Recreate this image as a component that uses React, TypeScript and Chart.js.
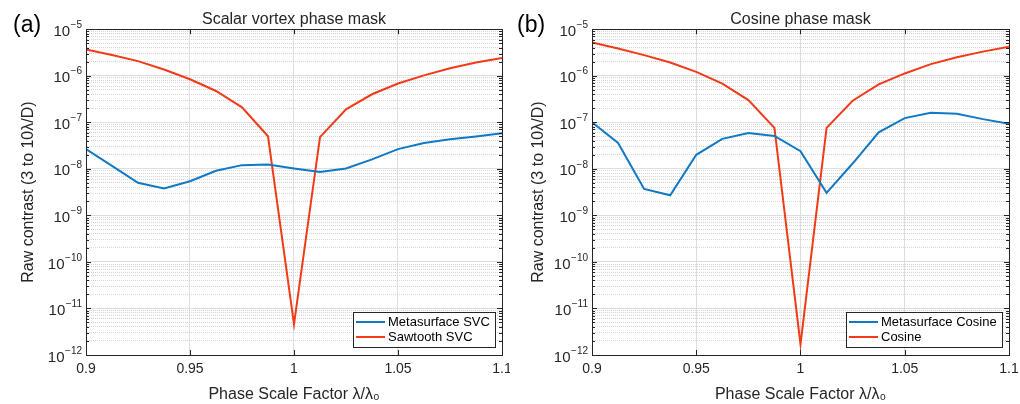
import React, { useEffect, useRef } from 'react';
import { Chart, registerables } from 'chart.js';

Chart.register(...registerables);

const FONT = '"Liberation Sans", Arial, Helvetica, sans-serif';
const TEXT = '#262626';

// Phase scale factor λ/λ0
const xValues = [0.9, 0.9125, 0.925, 0.9375, 0.95, 0.9625, 0.975, 0.9875, 1.0, 1.0125, 1.025, 1.0375, 1.05, 1.0625, 1.075, 1.0875, 1.1];

// (a) Scalar vortex phase mask
const metasurfaceSVC = [2.65e-8, 1.16e-8, 5.0e-9, 3.8e-9, 5.4e-9, 9.1e-9, 1.2e-8, 1.24e-8, 1.02e-8, 8.5e-9, 1.02e-8, 1.6e-8, 2.65e-8, 3.6e-8, 4.3e-8, 4.95e-8, 5.85e-8];
const sawtoothSVC = [3.66e-6, 2.8e-6, 2.06e-6, 1.36e-6, 8.4e-7, 4.7e-7, 2.1e-7, 5.0e-8, 4.6e-12, 4.8e-8, 1.9e-7, 4.0e-7, 6.8e-7, 1.02e-6, 1.45e-6, 1.92e-6, 2.42e-6];

// (b) Cosine phase mask
const metasurfaceCosine = [1.0e-7, 3.6e-8, 3.7e-9, 2.7e-9, 2.0e-8, 4.4e-8, 5.85e-8, 5.1e-8, 2.4e-8, 3.05e-9, 1.3e-8, 6.1e-8, 1.23e-7, 1.6e-7, 1.52e-7, 1.17e-7, 9.3e-8];
const cosine = [5.2e-6, 3.85e-6, 2.77e-6, 1.92e-6, 1.21e-6, 6.8e-7, 3.0e-7, 7.6e-8, 1.7e-12, 7.6e-8, 2.9e-7, 6.5e-7, 1.12e-6, 1.78e-6, 2.5e-6, 3.3e-6, 4.2e-6];

const xTicks = [0.9, 0.95, 1, 1.05, 1.1];
const xTickLabels = ['0.9', '0.95', '1', '1.05', '1.1'];
const yDecades = [-12, -11, -10, -9, -8, -7, -6, -5];

const BLUE = '#0F79C6';
const RED = '#F23A18';

const yTickValues: number[] = [];
yDecades.forEach((e, i) => {
  const steps = i === yDecades.length - 1 ? 1 : 9;
  for (let m = 1; m <= steps; m++) yTickValues.push(m * Math.pow(10, e));
});
const isDecade = (v: number) => Math.abs(Math.log10(v) - Math.round(Math.log10(v))) < 1e-6;

const framePlugin = {
  id: 'frameBox',
  afterDraw(chart: any) {
    const { ctx, chartArea } = chart;
    const { left, right, top, bottom } = chartArea;
    ctx.save();
    ctx.strokeStyle = TEXT;
    ctx.lineWidth = 1;
    ctx.beginPath();
    // inward ticks on y
    const ys = chart.scales.y;
    ys.ticks.forEach((t: any) => {
      const py = Math.round(ys.getPixelForValue(t.value)) + 0.5;
      const len = isDecade(t.value) ? 5 : 3;
      ctx.moveTo(left, py); ctx.lineTo(left + len, py);
      ctx.moveTo(right, py); ctx.lineTo(right - len, py);
    });
    const xs = chart.scales.x;
    xs.ticks.forEach((t: any) => {
      const px = Math.round(xs.getPixelForValue(t.value)) + 0.5;
      ctx.moveTo(px, bottom); ctx.lineTo(px, bottom - 5);
      ctx.moveTo(px, top); ctx.lineTo(px, top + 5);
    });
    ctx.stroke();
    ctx.strokeRect(Math.round(left) + 0.5, Math.round(top) + 0.5, Math.round(right - left), Math.round(bottom - top));

    // y tick labels 10^n with superscript exponent
    ctx.fillStyle = TEXT;
    ctx.textAlign = 'right';
    ctx.textBaseline = 'middle';
    yDecades.forEach((e) => {
      const py = ys.getPixelForValue(Math.pow(10, e));
      const exp = '\u2212' + String(Math.abs(e));
      ctx.font = `10px ${FONT}`;
      const ew = ctx.measureText(exp).width;
      const xr = left - 4;
      ctx.fillText(exp, xr, py - 4);
      ctx.font = `15px ${FONT}`;
      ctx.fillText('10', xr - ew - 0.5, py + 2.5);
    });

    // legend box (lower right)
    const items = chart.data.datasets;
    ctx.font = `13px ${FONT}`;
    const textW = Math.max(...items.map((d: any) => ctx.measureText(d.label).width));
    const rowH = 15;
    const w = Math.round(3 + 29 + 3 + textW + 5);
    const h = rowH * items.length + 5;
    const x = Math.round(right - 7 - w);
    const y = Math.round(bottom - 8 - h);
    ctx.fillStyle = '#ffffff';
    ctx.fillRect(x, y, w, h);
    ctx.strokeStyle = TEXT;
    ctx.lineWidth = 1;
    ctx.strokeRect(x + 0.5, y + 0.5, w, h);
    items.forEach((d: any, i: number) => {
      const cy = y + 10 + rowH * i;
      ctx.strokeStyle = d.borderColor;
      ctx.lineWidth = 2;
      ctx.beginPath();
      ctx.moveTo(x + 3, cy); ctx.lineTo(x + 32, cy);
      ctx.stroke();
      ctx.fillStyle = '#000';
      ctx.textBaseline = 'middle';
      ctx.textAlign = 'left';
      ctx.fillText(d.label, x + 35, cy);
    });
    ctx.restore();
  },
};

type PanelProps = {
  title: string;
  names: string[];
  series: number[][];
  yWidth: number;
  padRight: number;
};

function Panel({ title, names, series, yWidth, padRight }: PanelProps) {
  const ref = useRef<HTMLCanvasElement>(null);
  useEffect(() => {
    if (!ref.current) return;
    const colors = [BLUE, RED];
    const chart = new Chart(ref.current, {
      type: 'line',
      data: {
        datasets: series.map((s, i) => ({
          label: names[i],
          data: xValues.map((x, j) => ({ x, y: s[j] })),
          borderColor: colors[i],
          backgroundColor: colors[i],
          borderWidth: 2,
          pointRadius: 0,
          tension: 0,
          fill: false,
        })),
      },
      options: {
        animation: false,
        responsive: false,
        maintainAspectRatio: false,
        layout: { padding: { left: 0, right: padRight, top: 0, bottom: 0 } },
        plugins: {
          legend: { display: false },
          tooltip: { enabled: false },
          title: {
            display: true,
            fullSize: false,
            text: title,
            color: TEXT,
            font: { family: FONT, size: 16, weight: 'normal' },
            padding: { top: 10, bottom: 0 },
          },
        },
        scales: {
          x: {
            type: 'linear',
            min: 0.9,
            max: 1.1,
            afterBuildTicks: (s: any) => {
              s.ticks = xTicks.map((v) => ({ value: v }));
            },
            afterFit: (s: any) => {
              s.height = 49;
              s.paddingLeft = 0;
              s.paddingRight = 0;
            },
            ticks: {
              autoSkip: false,
              maxRotation: 0,
              padding: 6,
              color: TEXT,
              font: { family: FONT, size: 14 },
              callback: (_v: any, i: number) => xTickLabels[i],
            },
            grid: { color: '#dedede', drawTicks: false, lineWidth: 1 },
            border: { display: true, color: TEXT },
            title: {
              display: true,
              text: 'Phase Scale Factor λ/λ₀',
              color: TEXT,
              font: { family: FONT, size: 16 },
              padding: { top: 3, bottom: 0 },
            },
          },
          y: {
            type: 'logarithmic',
            min: 1e-12,
            max: 1e-5,
            afterBuildTicks: (s: any) => {
              s.ticks = yTickValues.map((v) => ({ value: v, major: isDecade(v) }));
            },
            afterFit: (s: any) => {
              s.width = yWidth;
            },
            ticks: { display: false, autoSkip: false },
            grid: {
              drawTicks: false,
              lineWidth: 1,
              color: (c: any) => (c.tick && !isDecade(c.tick.value) ? '#d6d6d6' : '#dedede'),
            },
            border: {
              display: true,
              color: TEXT,
              dash: (c: any) => (c.tick && !isDecade(c.tick.value) ? [1, 1] : []),
            },
            title: {
              display: true,
              text: 'Raw contrast (3 to 10λ/D)',
              color: TEXT,
              font: { family: FONT, size: 16 },
              padding: { top: 19, bottom: 0 },
            },
          },
        },
      } as any,
      plugins: [framePlugin],
    });
    return () => chart.destroy();
  }, []);
  return <canvas ref={ref} width={510} height={404} style={{ display: 'block', width: 510, height: 404 }} />;
}

const labelStyle: React.CSSProperties = {
  position: 'absolute',
  top: 11,
  fontFamily: FONT,
  fontSize: 23,
  lineHeight: '26px',
  color: '#000',
};

export default function App() {
  return (
    <div style={{ position: 'fixed', left: 0, top: 0, width: 1020, height: 404, background: '#fff' }}>
      <div style={{ position: 'absolute', left: 0, top: 0 }}>
        <Panel
          title="Scalar vortex phase mask"
          names={['Metasurface SVC', 'Sawtooth SVC']}
          series={[metasurfaceSVC, sawtoothSVC]}
          yWidth={86}
          padRight={8}
        />
      </div>
      <div style={{ position: 'absolute', left: 510, top: 0 }}>
        <Panel
          title="Cosine phase mask"
          names={['Metasurface Cosine', 'Cosine']}
          series={[metasurfaceCosine, cosine]}
          yWidth={82}
          padRight={11}
        />
      </div>
      <div style={{ ...labelStyle, left: 13 }}>(a)</div>
      <div style={{ ...labelStyle, left: 517 }}>(b)</div>
    </div>
  );
}
